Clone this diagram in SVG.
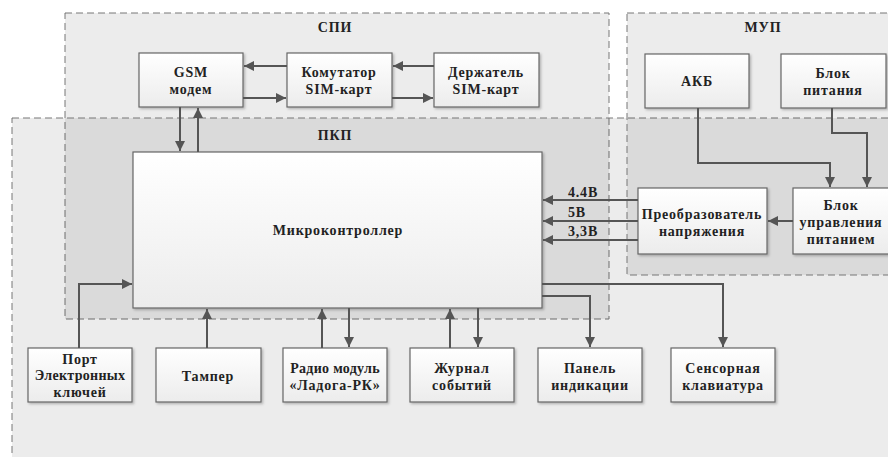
<svg xmlns="http://www.w3.org/2000/svg" width="888" height="457" viewBox="0 0 888 457">
<defs>
<linearGradient id="g" x1="0" y1="0" x2="0" y2="1"><stop offset="0" stop-color="#ffffff"/><stop offset="1" stop-color="#ececec"/></linearGradient>
<marker id="a" viewBox="0 0 10 10" refX="10" refY="5" markerWidth="5" markerHeight="5" orient="auto" markerUnits="strokeWidth"><path d="M0,0 L10,5 L0,10 z" fill="#555"/></marker>
<filter id="s" x="-5%" y="-5%" width="115%" height="120%"><feDropShadow dx="1.5" dy="1.5" stdDeviation="1" flood-color="#000" flood-opacity="0.25"/></filter>
</defs>
<style>
.reg{fill:#000;fill-opacity:0.075;stroke:#777;stroke-width:1;stroke-dasharray:7,4}
.box{fill:url(#g);stroke:#666;stroke-width:1.2;filter:url(#s)}
text{font-family:"Liberation Serif","Times New Roman",serif;font-weight:bold;font-size:14px;fill:#222;text-anchor:middle;letter-spacing:0.8px}
.c{fill:none;stroke:#555;stroke-width:2;marker-end:url(#a)}
.l{text-anchor:start}
.sm{letter-spacing:0.3px}
</style>
<rect width="888" height="457" fill="#fff"/>
<g id="regions">
<rect class="reg" x="65" y="13" width="544" height="306"/>
<rect class="reg" x="12" y="118" width="890" height="350"/>
<rect class="reg" x="627" y="13" width="270" height="262"/>
<text x="335" y="32">СПИ</text>
<text x="335" y="140">ПКП</text>
<text x="763" y="32">МУП</text>
</g>
<g id="gsm"><rect class="box" x="139" y="53" width="104" height="54"/><text x="191" y="77">GSM</text><text x="191" y="94">модем</text></g>
<g id="komm"><rect class="box" x="287" y="53" width="105" height="54"/><text x="339" y="77">Комутатор</text><text x="339" y="94">SIM-карт</text></g>
<g id="derzh"><rect class="box" x="434" y="53" width="105" height="54"/><text x="486" y="77">Держатель</text><text x="486" y="94">SIM-карт</text></g>
<g id="akb"><rect class="box" x="645" y="54" width="104" height="54"/><text x="697" y="86">АКБ</text></g>
<g id="bp"><rect class="box" x="781" y="54" width="105" height="54"/><text x="833" y="78">Блок</text><text x="833" y="95">питания</text></g>
<g id="mcu"><rect class="box" x="133" y="152" width="409" height="156"/><text x="338" y="235">Микроконтроллер</text></g>
<g id="conv"><rect class="box" x="638" y="188" width="129" height="66"/><text x="702" y="219">Преобразователь</text><text x="702" y="236">напряжения</text></g>
<g id="bup"><rect class="box" x="793" y="188" width="96" height="66"/><text x="841" y="210">Блок</text><text x="841" y="227">управления</text><text x="841" y="244">питанием</text></g>
<g id="port"><rect class="box" x="28" y="348" width="104" height="54"/><text x="80" y="364">Порт</text><text class="sm" x="80" y="380">Электронных</text><text x="80" y="397">ключей</text></g>
<g id="tamper"><rect class="box" x="156" y="348" width="105" height="54"/><text x="208" y="381">Тампер</text></g>
<g id="radio"><rect class="box" x="283" y="348" width="104" height="54"/><text class="sm" x="335" y="373">Радио модуль</text><text x="335" y="390">«Ладога-РК»</text></g>
<g id="journal"><rect class="box" x="410" y="348" width="104" height="54"/><text x="462" y="373">Журнал</text><text x="462" y="390">событий</text></g>
<g id="panel"><rect class="box" x="538" y="348" width="104" height="54"/><text x="590" y="373">Панель</text><text x="590" y="390">индикации</text></g>
<g id="sensor"><rect class="box" x="671" y="348" width="104" height="54"/><text x="723" y="373">Сенсорная</text><text x="723" y="390">клавиатура</text></g>
<g id="connectors">
<path class="c" d="M287,66 H244"/>
<path class="c" d="M243,98 H286"/>
<path class="c" d="M434,66 H393"/>
<path class="c" d="M392,98 H433"/>
<path class="c" d="M180,107 V151"/>
<path class="c" d="M198,152 V108"/>
<path class="c" d="M698,108 V163 H830 V187"/>
<path class="c" d="M832,108 V133 H867 V187"/>
<path class="c" d="M793,221 H768"/>
<path class="c" d="M638,200 H543"/>
<path class="c" d="M638,221 H543"/>
<path class="c" d="M638,240 H543"/>
<path class="c" d="M79,348 V284 H132"/>
<path class="c" d="M207,348 V309"/>
<path class="c" d="M322,348 V309"/>
<path class="c" d="M349,308 V347"/>
<path class="c" d="M450,348 V309"/>
<path class="c" d="M478,308 V347"/>
<path class="c" d="M542,296 H590 V347"/>
<path class="c" d="M542,284 H723 V347"/>
<text class="l" x="568" y="197">4.4В</text>
<text class="l" x="568" y="217">5В</text>
<text class="l" x="568" y="236">3,3В</text>
</g>
</svg>
